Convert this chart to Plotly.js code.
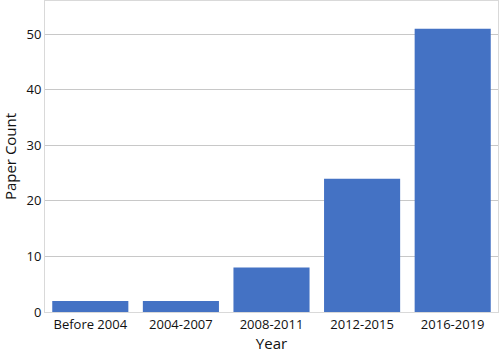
<!DOCTYPE html>
<html><head><meta charset="utf-8">
<script src="https://cdn.plot.ly/plotly-3.0.1.min.js"></script>
<style>html,body{margin:0;padding:0;background:#fff}#chart{width:500px;height:356px}</style>
</head><body><div id="chart"></div>
<script>
const categories = ["Before 2004", "2004-2007", "2008-2011", "2012-2015", "2016-2019"];
const paperCounts = [2, 2, 8, 24, 51];
const yTicks = [0, 10, 20, 30, 40, 50];

const data = [{
  type: "bar",
  x: categories,
  y: paperCounts,
  marker: {color: "#4472C4"},
  hoverinfo: "x+y"
}];
const layout = {
  width: 500, height: 356,
  margin: {l: 45, r: 2, t: 1, b: 44, pad: 0},
  paper_bgcolor: "#fff", plot_bgcolor: "#fff",
  font: {family: "Open Sans, Noto Sans, sans-serif", size: 13, color: "#111"},
  bargap: 0.16,
  showlegend: false,
  xaxis: {
    title: {text: "Year", font: {size: 15}, standoff: 6},
    showline: true, linecolor: "#d9d9d9", mirror: true, linewidth: 1,
    ticks: "", tickfont: {size: 13}
  },
  yaxis: {
    title: {text: "Paper Count", font: {size: 15}, standoff: 12},
    range: [0, 56], tickvals: yTicks,
    showgrid: true, gridcolor: "#c8c8c8", gridwidth: 1,
    zeroline: false,
    showline: true, linecolor: "#d9d9d9", mirror: true, linewidth: 1,
    ticks: "", tickfont: {size: 13}
  }
};
Plotly.newPlot("chart", data, layout, {displayModeBar: false, staticPlot: true});
</script></body></html>
